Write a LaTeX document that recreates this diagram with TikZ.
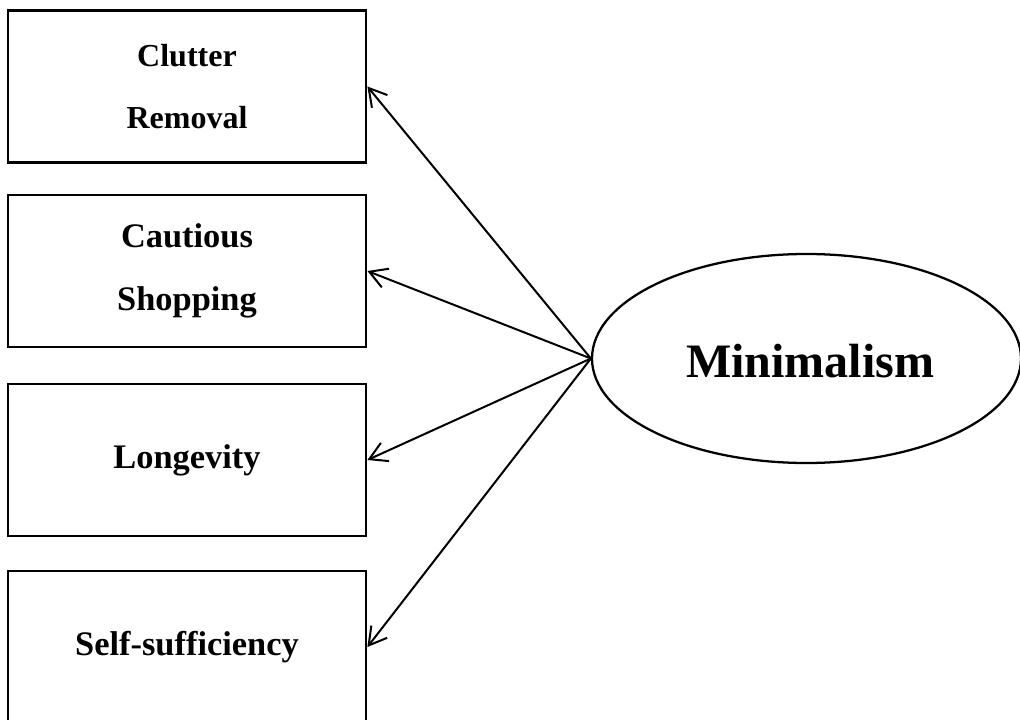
\documentclass[tikz,border=0pt]{standalone}
\usepackage{fontspec}
\setmainfont{Liberation Serif}
\usetikzlibrary{shapes.geometric,arrows.meta}
\tikzset{
  box/.style={draw=black, line width=2.1pt, minimum width=268.5pt, minimum height=114pt, inner sep=0pt, align=center, font=\bfseries\fontsize{25.8}{47.5}\selectfont},
  smallbox/.style={box, font=\bfseries\fontsize{24}{46.5}\selectfont},
  oval/.style={draw=black, line width=1.7pt, ellipse, minimum width=321.75pt, minimum height=156.75pt, inner sep=0pt},
  arr/.style={line width=1.5pt, -{Straight Barb[length=13pt,width=15pt]}},
  bigtext/.style={font=\bfseries\fontsize{36}{40}\selectfont, inner sep=0pt}
}
\begin{document}
\begin{tikzpicture}[x=0.75pt,y=-0.75pt]
\useasboundingbox (0,0) rectangle (1020,720);
\clip (0,0) rectangle (1020,720);
\node[smallbox] (b1) at (187,86.5) {Clutter\\Removal};
\node[box] (b2) at (187,271) {Cautious\\Shopping};
\node[box] (b3) at (187,460) {Longevity};
\node[box] (b4) at (187,647) {Self-sufficiency};
\node[oval] (m) at (806.5,358.5) {};
\node[bigtext] (mt) at (810,361) {Minimalism};
\draw[arr] (m.west) -- (b1.east);
\draw[arr] (m.west) -- (b2.east);
\draw[arr] (m.west) -- (b3.east);
\draw[arr] (m.west) -- (b4.east);
\end{tikzpicture}
\end{document}
